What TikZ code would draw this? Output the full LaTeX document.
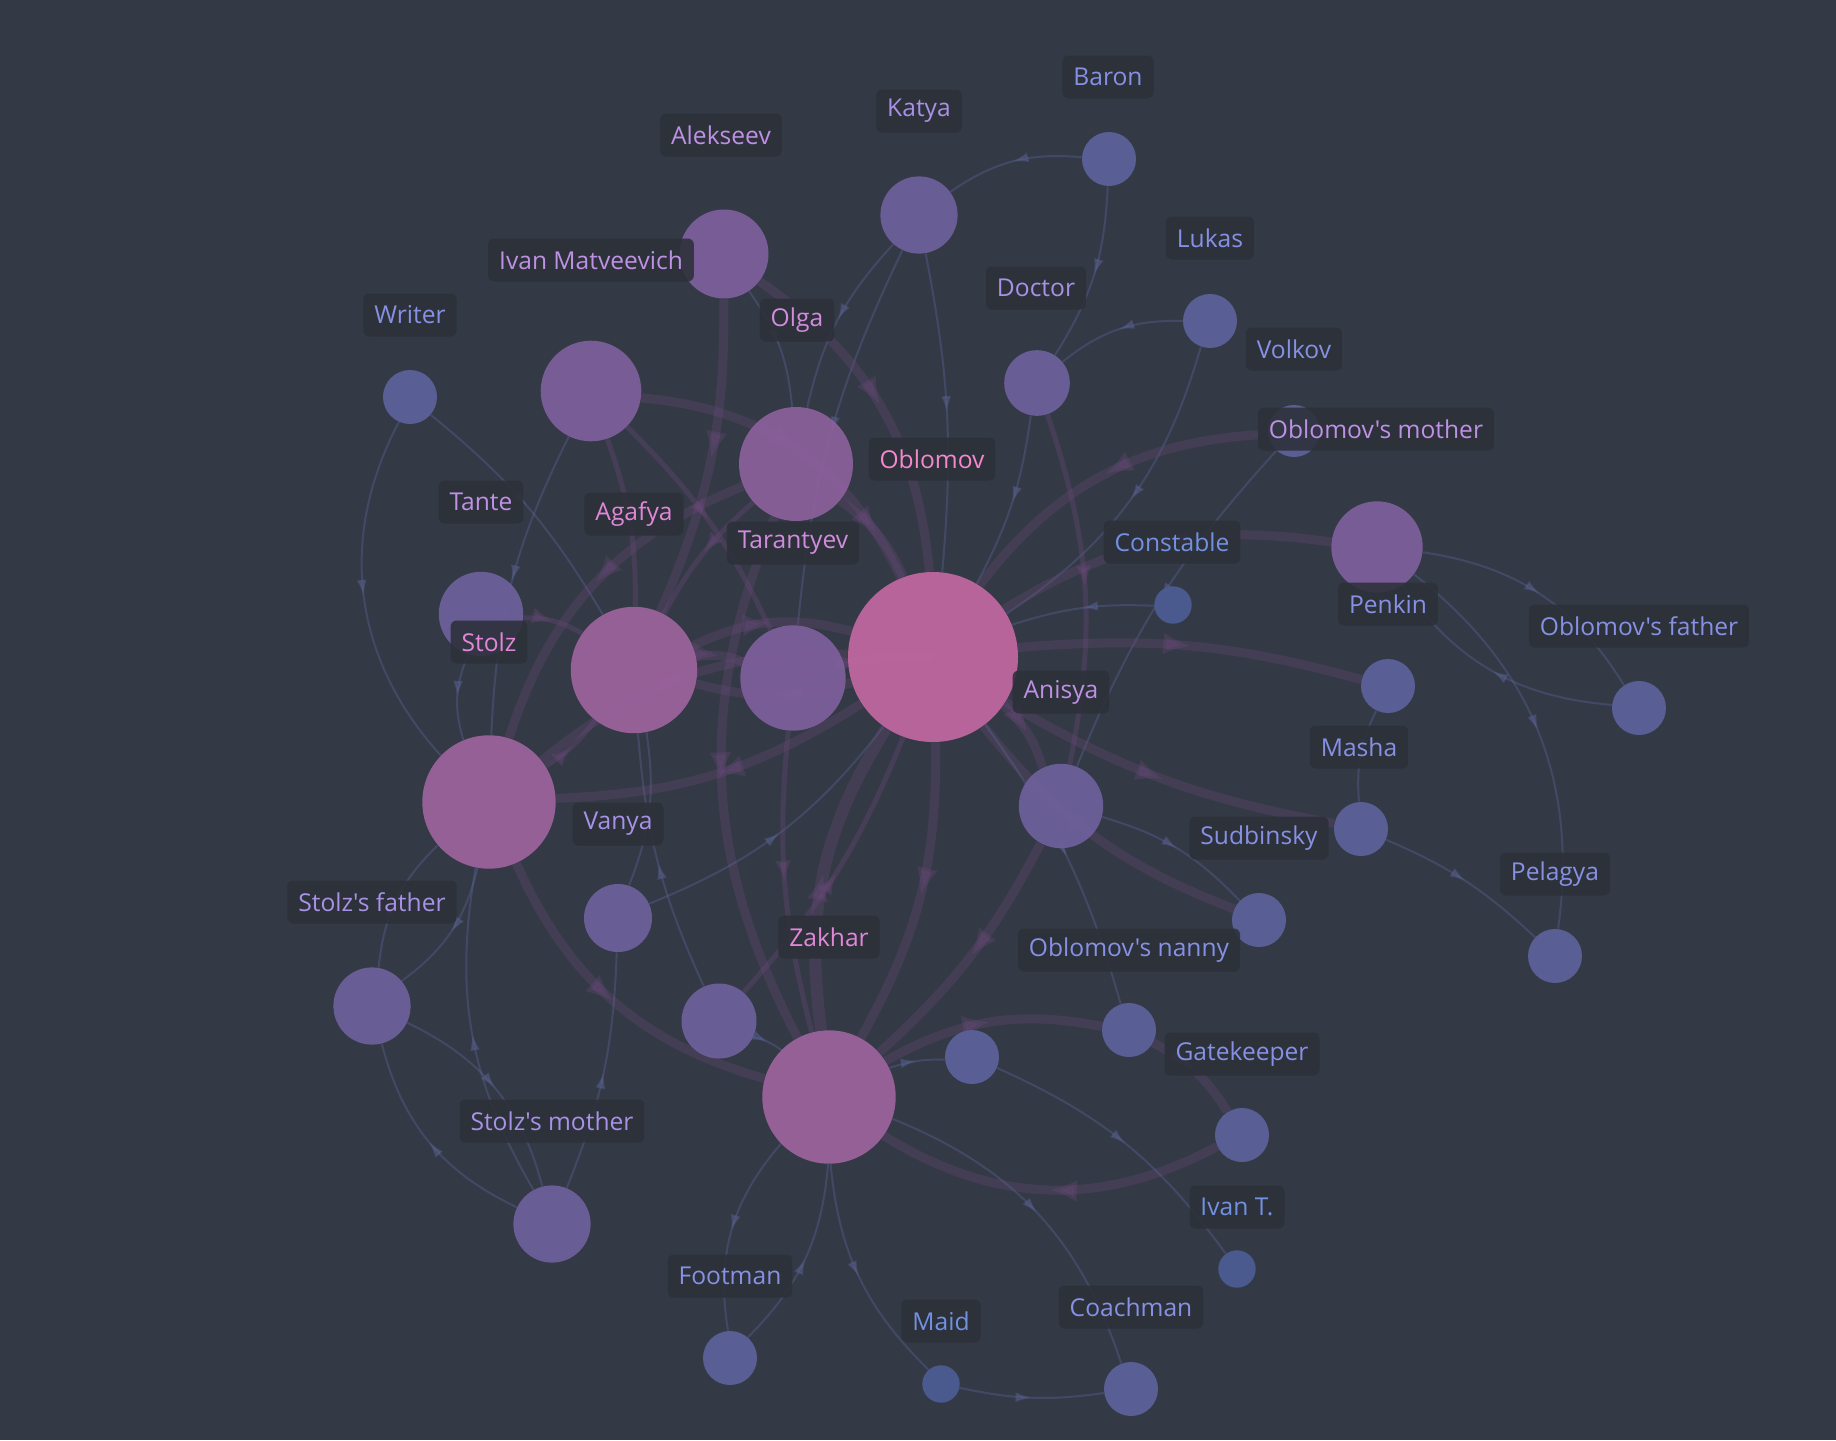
\documentclass[tikz,border=0pt]{standalone}
\usepackage{fontspec}
\newfontfamily\labelfont{Open Sans}
\usepackage{tikz}
\usetikzlibrary{arrows.meta, backgrounds, decorations.markings}

\definecolor{canvas}{RGB}{52,57,70}
\definecolor{tagbg}{RGB}{44,48,57}
\definecolor{edgeblue}{RGB}{90,100,150}
\definecolor{edgeplum}{RGB}{110,75,125}
\definecolor{nTiny}{RGB}{76,92,148}
\definecolor{nSmall}{RGB}{92,97,155}
\definecolor{nMed}{RGB}{110,96,156}
\definecolor{nLarge}{RGB}{126,95,155}
\definecolor{nBig}{RGB}{140,96,156}
\definecolor{nPink}{RGB}{156,99,157}
\definecolor{nHot}{RGB}{192,104,160}
\definecolor{tHot}{RGB}{245,135,205}
\definecolor{tPink}{RGB}{225,135,215}
\definecolor{tOrchid}{RGB}{210,140,222}
\definecolor{tLilac}{RGB}{190,145,228}
\definecolor{tLav}{RGB}{168,145,230}
\definecolor{tPeri}{RGB}{135,145,228}
\definecolor{tBlue}{RGB}{115,145,225}

\begin{document}
\begin{tikzpicture}[
  x=0.5pt, y=-0.5pt,
  font=\labelfont\fontsize{12.3}{14}\selectfont,
  person/.style={circle, inner sep=0pt, fill opacity=.93},
  tag/.style={rounded corners=3pt, fill=tagbg, fill opacity=.88, text opacity=1, minimum height=21.5pt, inner xsep=5.5pt, inner ysep=0pt},
  link/.style={draw=edgeblue, line width=1pt, opacity=.38, postaction={decorate},
    decoration={markings, mark=at position .5 with {\arrow{Latex[length=8pt, width=5pt]}}}},
  tie/.style={draw=edgeplum, line width=2.5pt, opacity=.3, postaction={decorate},
    decoration={markings, mark=at position .5 with {\arrow{Latex[length=11pt, width=8pt]}}}},
  bond/.style={draw=edgeplum, line width=4.5pt, opacity=.28, postaction={decorate},
    decoration={markings, mark=at position .5 with {\arrow{Latex[length=14pt, width=11pt]}}}}
]
\begin{pgfonlayer}{background}
\fill[canvas] (0,0) rectangle (1836,1440);
\end{pgfonlayer}
\useasboundingbox (0,0) rectangle (1836,1440);

% --- people ---
\node[person, fill=nSmall, minimum size=27pt] (baron) at (1109,159) {};
\node[person, fill=nMed, minimum size=38.6pt] (katya) at (919,215) {};
\node[person, fill=nLarge, minimum size=44.5pt] (alekseev) at (724,254) {};
\node[person, fill=nSmall, minimum size=27pt] (writer) at (410,397) {};
\node[person, fill=nLarge, minimum size=50.3pt] (ivanm) at (591,391) {};
\node[person, fill=nBig, minimum size=57pt] (olga) at (796,464) {};
\node[person, fill=nMed, minimum size=32.8pt] (doctor) at (1037,383) {};
\node[person, fill=nSmall, minimum size=27pt] (lukas) at (1210,321) {};
\node[person, fill=nSmall, minimum size=26pt] (volkov) at (1294,431) {};
\node[person, fill=nLarge, minimum size=45.7pt] (omother) at (1377,547) {};
\node[person, fill=nTiny, minimum size=18.7pt] (constable) at (1173,605) {};
\node[person, fill=nMed, minimum size=42.2pt] (tante) at (481,614) {};
\node[person, fill=nPink, minimum size=63.2pt] (agafya) at (634,670) {};
\node[person, fill=nLarge, minimum size=52.7pt] (tarantyev) at (793,678) {};
\node[person, fill=nHot, minimum size=85pt] (oblomov) at (933,657) {};
\node[person, fill=nSmall, minimum size=27pt] (penkin) at (1388,686) {};
\node[person, fill=nSmall, minimum size=27pt] (ofather) at (1639,708) {};
\node[person, fill=nPink, minimum size=66.7pt] (stolz) at (489,802) {};
\node[person, fill=nMed, minimum size=42.2pt] (anisya) at (1061,806) {};
\node[person, fill=nSmall, minimum size=27pt] (masha) at (1361,829) {};
\node[person, fill=nMed, minimum size=34pt] (vanya) at (618,918) {};
\node[person, fill=nSmall, minimum size=27pt] (sudbinsky) at (1259,920) {};
\node[person, fill=nSmall, minimum size=27pt] (pelagya) at (1555,956) {};
\node[person, fill=nMed, minimum size=38.6pt] (sfather) at (372,1006) {};
\node[person, fill=nMed, minimum size=37.5pt] (sideA) at (719,1021) {};
\node[person, fill=nSmall, minimum size=27pt] (sideB) at (972,1057) {};
\node[person, fill=nSmall, minimum size=27pt] (nanny) at (1129,1030) {};
\node[person, fill=nPink, minimum size=66.7pt] (zakhar) at (829,1097) {};
\node[person, fill=nSmall, minimum size=27pt] (gatekeeper) at (1242,1135) {};
\node[person, fill=nMed, minimum size=38.6pt] (smother) at (552,1224) {};
\node[person, fill=nTiny, minimum size=18.7pt] (ivant) at (1237,1269) {};
\node[person, fill=nSmall, minimum size=27pt] (footman) at (730,1358) {};
\node[person, fill=nTiny, minimum size=18.7pt] (maid) at (941,1384) {};
\node[person, fill=nSmall, minimum size=27pt] (coachman) at (1131,1389) {};

% --- name tags ---
\node[tag, text=tPeri] (baronTag) at (1108,77) {Baron};
\node[tag, text=tLav] (katyaTag) at (919,111) {Katya};
\node[tag, text=tLilac] (alekseevTag) at (721,135) {Alekseev};
\node[tag, text=tLilac] (ivanmTag) at (591,260) {Ivan Matveevich};
\node[tag, text=tPeri] (writerTag) at (410,315) {Writer};
\node[tag, text=tOrchid] (olgaTag) at (797,320) {Olga};
\node[tag, text=tLav] (doctorTag) at (1036,288) {Doctor};
\node[tag, text=tPeri] (lukasTag) at (1210,238) {Lukas};
\node[tag, text=tPeri] (volkovTag) at (1294,349) {Volkov};
\node[tag, text=tLilac] (omotherTag) at (1376,429) {Oblomov's mother};
\node[tag, text=tHot] (oblomovTag) at (932,459) {Oblomov};
\node[tag, text=tLilac] (tanteTag) at (481,502) {Tante};
\node[tag, text=tPink] (agafyaTag) at (634,514) {Agafya};
\node[tag, text=tOrchid] (tarantyevTag) at (793,543) {Tarantyev};
\node[tag, text=tBlue] (constableTag) at (1172,542) {Constable};
\node[tag, text=tPeri] (penkinTag) at (1388,604) {Penkin};
\node[tag, text=tPeri] (ofatherTag) at (1639,626) {Oblomov's father};
\node[tag, text=tPink] (stolzTag) at (489,642) {Stolz};
\node[tag, text=tLilac] (anisyaTag) at (1061,692) {Anisya};
\node[tag, text=tPeri] (mashaTag) at (1359,747) {Masha};
\node[tag, text=tLav] (vanyaTag) at (618,824) {Vanya};
\node[tag, text=tPeri] (sudbinskyTag) at (1259,838) {Sudbinsky};
\node[tag, text=tPeri] (pelagyaTag) at (1555,874) {Pelagya};
\node[tag, text=tLav] (sfatherTag) at (372,902) {Stolz's father};
\node[tag, text=tPink] (zakharTag) at (829,937) {Zakhar};
\node[tag, text=tPeri] (nannyTag) at (1129,950) {Oblomov's nanny};
\node[tag, text=tPeri] (gatekeeperTag) at (1242,1054) {Gatekeeper};
\node[tag, text=tLav] (smotherTag) at (552,1121) {Stolz's mother};
\node[tag, text=tBlue] (ivantTag) at (1237,1207) {Ivan T.};
\node[tag, text=tPeri] (footmanTag) at (730,1276) {Footman};
\node[tag, text=tBlue] (maidTag) at (941,1321) {Maid};
\node[tag, text=tPeri] (coachmanTag) at (1131,1307) {Coachman};

% --- ties ---
\begin{pgfonlayer}{background}
\draw[link] (baron) to[bend right=20] (katya);
\draw[link] (baron) to[bend left=15] (doctor);
\draw[link] (katya) to[bend right=15] (olga);
\draw[link] (katya) to[bend left=8] (oblomov);
\draw[link] (katya) to[bend right=10] (tarantyev);
\draw[bond] (alekseev) to[bend left=25] (oblomov);
\draw[bond] (alekseev) to[bend left=12] (agafya);
\draw[link] (alekseev) to[bend left=15] (olga);
\draw[bond] (ivanm) to[bend left=30] (oblomov);
\draw[tie] (ivanm) to[bend left=10] (agafya);
\draw[link] (ivanm) to[bend right=12] (stolz);
\draw[tie] (ivanm) to[bend left=10] (tarantyev);
\draw[link] (writer) to[bend right=35] (stolz);
\draw[link] (writer) to[bend left=10] (agafya);
\draw[bond] (olga) to[bend left=15] (oblomov);
\draw[bond] (olga) to[bend right=25] (stolz);
\draw[bond] (olga) to[bend right=25] (zakhar);
\draw[tie] (olga) to[bend right=10] (agafya);
\draw[link] (doctor) to[bend left=10] (oblomov);
\draw[tie] (doctor) to[bend left=15] (anisya);
\draw[link] (lukas) to[bend right=20] (doctor);
\draw[link] (lukas) to[bend left=20] (oblomov);
\draw[bond] (volkov) to[bend right=25] (oblomov);
\draw[link] (volkov) to[bend right=10] (anisya);
\draw[bond] (omother) to[bend right=20] (oblomov);
\draw[link] (omother) to[bend left=25] (ofather);
\draw[link] (ofather) to[bend left=25] (omother);
\draw[link] (omother) to[bend left=30] (pelagya);
\draw[bond] (oblomov) to[bend left=10] (penkin);
\draw[bond] (oblomov) to[bend right=10] (masha);
\draw[bond] (oblomov) to[bend right=15] (sudbinsky);
\draw[link] (anisya) to[bend left=15] (sudbinsky);
\draw[link] (penkin) to[bend right=15] (masha);
\draw[link] (masha) to[bend left=10] (pelagya);
\draw[link] (constable) to[bend right=10] (oblomov);
\draw[link] (tante) to[bend right=20] (stolz);
\draw[tie] (tante) to[bend left=15] (agafya);
\draw[bond] (agafya) to[bend left=20] (oblomov);
\draw[bond] (oblomov) to[bend left=15] (agafya);
\draw[bond] (agafya) to[bend left=15] (tarantyev);
\draw[bond] (tarantyev.center) to[bend left=10] (oblomov.center);
\draw[bond] (stolz) to[bend left=20] (oblomov);
\draw[bond] (oblomov) to[bend left=15] (stolz);
\draw[tie] (stolz) to[bend right=10] (agafya);
\draw[bond] (stolz) to[bend right=25] (zakhar);
\draw[link] (stolz) to[bend left=20] (sfather);
\draw[link] (sfather) to[bend left=20] (stolz);
\draw[link] (sfather) to[bend left=25] (smother);
\draw[link] (smother) to[bend left=25] (sfather);
\draw[link] (smother) to[bend left=20] (stolz);
\draw[link] (smother) to[bend right=10] (vanya);
\draw[link] (vanya) to[bend right=15] (agafya);
\draw[link] (vanya) to[bend right=15] (oblomov);
\draw[tie] (sideA) to[bend right=10] (oblomov);
\draw[link] (sideA) to[bend left=10] (agafya);
\draw[link] (sideA) to[bend left=10] (zakhar);
\draw[bond, line width=6pt] (zakhar) to[bend left=20] (oblomov);
\draw[bond] (oblomov) to[bend left=15] (zakhar);
\draw[bond] (zakhar) to[bend left=20] (nanny);
\draw[bond] (nanny) to[bend left=15] (gatekeeper);
\draw[bond] (gatekeeper) to[bend left=30] (zakhar);
\draw[link] (zakhar) to[bend left=10] (sideB);
\draw[link] (zakhar) to[bend right=25] (footman);
\draw[link] (footman) to[bend right=20] (zakhar);
\draw[link] (zakhar) to[bend right=20] (maid);
\draw[link] (maid) to[bend right=10] (coachman);
\draw[link] (zakhar) to[bend left=25] (coachman);
\draw[link] (sideB) to[bend left=15] (ivant);
\draw[link] (oblomov) to[bend left=10] (nanny);
\draw[bond] (anisya) to[bend left=10] (zakhar);
\draw[bond] (oblomov) to[bend left=15] (anisya);
\draw[tie] (tarantyev) to[bend right=10] (zakhar);
\end{pgfonlayer}
\end{tikzpicture}
\end{document}
